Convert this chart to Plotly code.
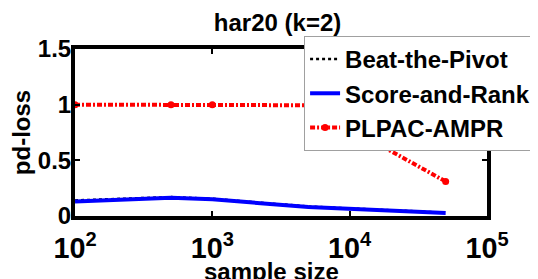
import plotly.graph_objects as go

sample_size = [100, 500, 1000, 5000, 50000]
beat_the_pivot = [0.14, 0.17, 0.155, 0.085, 0.03]
score_and_rank = [0.13, 0.165, 0.15, 0.08, 0.027]
plpac_ampr = [1.0, 1.0, 1.0, 0.995, 0.31]

y_tick_vals = [0, 0.5, 1, 1.5]
y_tick_text = ["0", "0.5", "1", "1.5"]

FONT = "Liberation Sans, Arial, Helvetica, sans-serif"

fig = go.Figure()
fig.add_trace(go.Scatter(x=sample_size, y=beat_the_pivot, mode="lines", name="Beat-the-Pivot",
                         line=dict(color="black", width=2.5, dash="dot")))
fig.add_trace(go.Scatter(x=sample_size, y=score_and_rank, mode="lines", name="Score-and-Rank",
                         line=dict(color="#0000ff", width=4)))
fig.add_trace(go.Scatter(x=sample_size, y=plpac_ampr, mode="lines+markers", name="PLPAC-AMPR",
                         line=dict(color="#ff0000", width=4, dash="5px,2px,2px,2px"),
                         marker=dict(color="#ff0000", size=7)))

fig.update_layout(
    width=538, height=279,
    margin=dict(l=67, r=59, t=41, b=71, autoexpand=False),
    paper_bgcolor="white", plot_bgcolor="white",
    font=dict(family=FONT, size=24, color="black"),
    title=dict(text="har20 (k=2)", x=0.501, xanchor="center", y=0.946, yanchor="middle",
               font=dict(family=FONT, size=24, color="black", weight="bold")),
    showlegend=True,
    legend=dict(x=0.556, y=1.078, xanchor="left", yanchor="top",
                bgcolor="white", bordercolor="#a0a0a0", borderwidth=1,
                font=dict(family=FONT, size=24, color="black", weight="bold"),
                itemwidth=30, tracegroupgap=0),
    annotations=[dict(text="sample size", xref="paper", yref="paper", x=0.477, y=-0.24,
                      xanchor="center", yanchor="top", showarrow=False,
                      font=dict(family=FONT, size=24, color="black", weight="bold"))],
)
fig.update_xaxes(type="log", range=[2, 5], dtick=1, exponentformat="power",
                 showline=True, linecolor="black", linewidth=4, mirror="ticks",
                 ticks="inside", ticklen=5, tickwidth=2, tickcolor="black",
                 showgrid=False, zeroline=False, automargin=False,
                 ticklabelstandoff=5,
                 tickfont=dict(family=FONT, size=23, color="black", weight="bold"))
fig.update_yaxes(range=[0, 1.5], tickvals=y_tick_vals, ticktext=y_tick_text,
                 showline=True, linecolor="black", linewidth=4, mirror="ticks",
                 ticks="inside", ticklen=5, tickwidth=2, tickcolor="black",
                 showgrid=False, zeroline=False, automargin=False,
                 ticklabelstandoff=-5,
                 tickfont=dict(family=FONT, size=24, color="black", weight="bold"),
                 title=dict(text="pd-loss", standoff=4,
                            font=dict(family=FONT, size=24, color="black", weight="bold")))

fig.write_html("out.html")
